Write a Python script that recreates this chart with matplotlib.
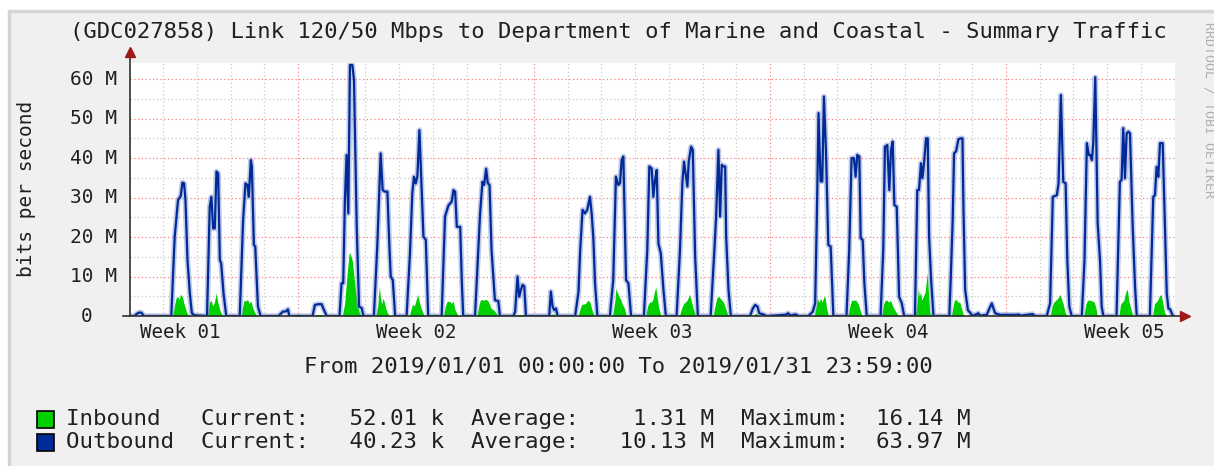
import numpy as np
import matplotlib
matplotlib.use("Agg")
import matplotlib.pyplot as plt
from matplotlib.patches import Rectangle
from matplotlib.lines import Line2D

W, H = 1214, 466
MONO = "DejaVu Sans Mono"

TITLE = "(GDC027858) Link 120/50 Mbps to Department of Marine and Coastal - Summary Traffic"
PERIOD = "From 2019/01/01 00:00:00 To 2019/01/31 23:59:00"
YLABEL = "bits per second"
WEEK_LABELS = ["Week 01", "Week 02", "Week 03", "Week 04", "Week 05"]
WEEK_CENTERS = [1.5, 8.5, 15.5, 22.5, 29.5]      # days since Jan 1
WEEK_BOUNDS = [5, 12, 19, 26]                    # red grid lines
Y_TICKS = [0, 10, 20, 30, 40, 50, 60]
Y_LABELS = ["0", "10 M", "20 M", "30 M", "40 M", "50 M", "60 M"]
LEGEND_ROWS = [
    ("Inbound ", "52.01 k", " 1.31 M", "16.14 M"),
    ("Outbound", "40.23 k", "10.13 M", "63.97 M"),
]

# outbound (Mbps) vs time (days since 2019-01-01 00:00)
OUT_T = [0.0, 0.15, 0.22, 0.30, 0.36, 0.42,
         1.24, 1.34, 1.44, 1.52, 1.57, 1.62, 1.66, 1.72, 1.79, 1.85, 1.93,
         2.30, 2.38, 2.43, 2.48, 2.53, 2.58, 2.63, 2.68, 2.72, 2.79, 2.87,
         3.27, 3.37, 3.44, 3.50, 3.54, 3.60, 3.63, 3.69, 3.73, 3.81, 3.89,
         4.42, 4.55, 4.65, 4.70, 4.74,
         5.43, 5.50, 5.60, 5.70, 5.77, 5.85,
         6.23, 6.29, 6.34, 6.39, 6.44, 6.49, 6.54, 6.61, 6.66, 6.74, 6.81, 6.89, 6.94,
         7.25, 7.35, 7.41, 7.45, 7.51, 7.58, 7.65, 7.71, 7.75, 7.81, 7.88,
         8.22, 8.32, 8.39, 8.44, 8.49, 8.54, 8.60, 8.65, 8.72, 8.79, 8.86,
         9.26, 9.36, 9.46, 9.56, 9.61, 9.66, 9.71, 9.81, 9.86, 9.90,
         10.25, 10.40, 10.47, 10.52, 10.58, 10.63, 10.68, 10.74, 10.84, 10.94, 10.99,
         11.39, 11.44, 11.51, 11.56, 11.61, 11.66, 11.71, 11.76,
         12.45, 12.50, 12.55, 12.60, 12.65, 12.70,
         13.22, 13.32, 13.37, 13.44, 13.51, 13.58, 13.66, 13.71, 13.76, 13.81, 13.88,
         14.25, 14.35, 14.43, 14.50, 14.55, 14.60, 14.65, 14.73, 14.80, 14.88,
         15.26, 15.36, 15.42, 15.49, 15.54, 15.59, 15.64, 15.69, 15.76, 15.84, 15.91,
         16.23, 16.33, 16.40, 16.45, 16.51, 16.55, 16.59, 16.66, 16.71, 16.78, 16.86,
         17.24, 17.35, 17.40, 17.47, 17.52, 17.57, 17.62, 17.67, 17.70, 17.77, 17.84,
         18.41, 18.49, 18.56, 18.63, 18.68, 18.80, 18.90,
         19.45, 19.54, 19.61, 19.69, 19.77, 19.84,
         20.14, 20.27, 20.34, 20.39, 20.44, 20.50, 20.55, 20.60, 20.66, 20.73, 20.80, 20.88,
         21.27, 21.35, 21.42, 21.49, 21.54, 21.59, 21.65, 21.69, 21.75, 21.80, 21.87,
         22.28, 22.36, 22.41, 22.48, 22.54, 22.59, 22.64, 22.69, 22.76, 22.83, 22.91, 22.98,
         23.30, 23.37, 23.42, 23.48, 23.52, 23.57, 23.63, 23.68, 23.72, 23.78, 23.85,
         24.32, 24.36, 24.42, 24.46, 24.52, 24.59, 24.66, 24.71, 24.74, 24.79, 24.87, 24.95, 25.01,
         25.08, 25.18, 25.23, 25.43, 25.51, 25.58, 25.63, 25.68, 25.83,
         26.32, 26.37, 26.44, 26.69, 26.79, 26.86,
         27.21, 27.31, 27.39, 27.51, 27.56, 27.63, 27.70, 27.77, 27.82, 27.88, 27.95,
         28.25, 28.33, 28.40, 28.46, 28.50, 28.55, 28.59, 28.65, 28.69, 28.72, 28.79, 28.84, 28.89,
         29.28, 29.38, 29.43, 29.48, 29.53, 29.58, 29.63, 29.68, 29.76, 29.83, 29.88,
         30.27, 30.37, 30.42, 30.47, 30.52, 30.57, 30.65, 30.69, 30.77, 30.82, 30.87, 30.95, 31.0]
OUT_V = [0, 0, 0.6, 0.9, 0.8, 0,
         0, 20.0, 29.4, 30.4, 33.8, 33.6, 29.4, 14.2, 5.7, 0.7, 0.2,
         0, 27.7, 30.2, 22.2, 22.2, 36.6, 36.1, 14.2, 13.3, 5.7, 0,
         0, 24.3, 33.6, 33.2, 30.2, 39.5, 37.8, 18.0, 17.6, 2.4, 0,
         0, 1.1, 1.2, 1.7, 0,
         0, 2.8, 3.0, 3.0, 1.5, 0,
         0, 8.3, 8.3, 29.4, 40.8, 26.0, 63.6, 63.6, 59.8, 22.6, 2.4, 2.0, 0,
         0, 17.6, 31.9, 41.2, 31.9, 31.5, 31.5, 17.6, 10.0, 9.1, 0,
         0, 15.9, 31.1, 35.3, 33.6, 35.3, 47.1, 36.1, 20.1, 19.3, 0,
         0, 25.2, 28.0, 29.0, 31.9, 31.5, 22.6, 22.6, 8.3, 0,
         0, 26.0, 34.0, 33.2, 37.3, 33.6, 33.2, 16.7, 4.0, 3.8, 0,
         0, 1.1, 10.0, 4.9, 6.6, 7.9, 7.5, 0,
         0, 6.2, 2.4, 1.5, 1.9, 0,
         0, 6.2, 16.7, 26.9, 26.0, 26.9, 30.2, 26.0, 19.7, 8.3, 0,
         0, 9.1, 35.3, 33.2, 33.6, 39.5, 40.4, 9.1, 8.3, 0,
         0, 16.7, 37.9, 37.4, 30.2, 34.5, 37.0, 18.4, 15.9, 6.6, 0,
         0, 16.7, 33.6, 39.1, 35.3, 32.8, 39.1, 42.9, 42.1, 15.0, 0,
         0, 16.7, 24.8, 42.1, 25.2, 38.3, 37.9, 37.9, 20.1, 6.6, 0,
         0, 1.9, 2.8, 2.4, 0.7, 0.4, 0,
         0.3, 0.7, 0.1, 0.3, 0.4, 0,
         0, 1.1, 3.2, 25.2, 51.4, 34.1, 34.1, 55.6, 42.1, 18.0, 17.6, 0,
         0, 16.7, 40.0, 40.0, 35.3, 40.8, 40.4, 19.7, 19.3, 8.3, 0,
         0, 16.7, 42.9, 43.3, 31.9, 42.1, 44.2, 28.1, 27.7, 4.9, 3.2, 0,
         0, 31.9, 31.9, 38.7, 34.9, 38.7, 45.0, 45.0, 20.1, 9.1, 0,
         0, 9.1, 24.3, 41.2, 41.7, 44.8, 45.0, 45.0, 26.9, 6.6, 1.5, 0.7, 0,
         0.3, 0.7, 0.1, 0.3, 1.9, 3.2, 1.9, 0.7, 0.3,
         0.3, 0.4, 0.1, 0.4, 0.5, 0,
         0, 3.2, 30.2, 30.6, 33.6, 56.0, 34.0, 33.6, 14.2, 2.4, 0,
         0, 14.2, 43.8, 40.8, 40.8, 39.5, 43.8, 60.5, 39.5, 23.5, 14.2, 2.4, 0,
         0, 34.0, 34.5, 47.6, 34.9, 46.3, 46.7, 46.3, 22.6, 7.4, 0,
         0, 30.2, 30.6, 37.8, 35.3, 43.8, 43.8, 31.1, 5.7, 1.9, 1.7, 0, 0]

# inbound (Mbps), filled area
IN_T = [0.0,
        1.28, 1.33, 1.38, 1.43, 1.47, 1.52, 1.57, 1.62, 1.70, 1.77,
        2.31, 2.37, 2.42, 2.47, 2.52, 2.57, 2.62, 2.68, 2.75, 2.82,
        3.31, 3.36, 3.40, 3.45, 3.50, 3.55, 3.60, 3.66, 3.72, 3.80,
        4.93, 4.97, 5.03, 5.07,
        5.48, 5.55, 5.70, 5.75,
        6.31, 6.38, 6.43, 6.48, 6.52, 6.56, 6.61, 6.66, 6.71, 6.76, 6.81, 6.88,
        7.31, 7.37, 7.41, 7.44, 7.48, 7.52, 7.56, 7.60, 7.65, 7.72,
        8.30, 8.36, 8.40, 8.45, 8.50, 8.55, 8.60, 8.65, 8.72, 8.78,
        9.31, 9.37, 9.42, 9.50, 9.55, 9.60, 9.66, 9.72, 9.77,
        10.31, 10.37, 10.42, 10.50, 10.56, 10.62, 10.68, 10.72, 10.80, 10.90, 10.95,
        11.45, 11.50, 11.70, 11.75,
        12.49, 12.52, 12.60, 12.63,
        13.31, 13.37, 13.42, 13.47, 13.53, 13.60, 13.66, 13.72, 13.79,
        14.33, 14.40, 14.43, 14.47, 14.52, 14.57, 14.62, 14.68, 14.73, 14.78,
        15.31, 15.37, 15.42, 15.47, 15.52, 15.57, 15.61, 15.65, 15.70, 15.77,
        16.31, 16.38, 16.43, 16.48, 16.52, 16.57, 16.61, 16.66, 16.72, 16.79,
        17.31, 17.38, 17.42, 17.47, 17.52, 17.57, 17.62, 17.68, 17.74, 17.80,
        18.50, 18.55, 18.60, 18.64,
        20.31, 20.37, 20.40, 20.43, 20.46, 20.50, 20.55, 20.60, 20.64, 20.68, 20.72, 20.78,
        21.31, 21.37, 21.42, 21.48, 21.55, 21.62, 21.67, 21.74,
        22.31, 22.37, 22.42, 22.47, 22.52, 22.57, 22.62, 22.67, 22.74, 22.80, 22.87,
        23.31, 23.37, 23.40, 23.43, 23.47, 23.50, 23.55, 23.60, 23.64, 23.67, 23.70, 23.74, 23.79,
        24.38, 24.43, 24.47, 24.52, 24.58, 24.63, 24.68, 24.73, 24.78,
        25.54, 25.57, 25.62,
        27.31, 27.37, 27.42, 27.48, 27.54, 27.60, 27.64, 27.70, 27.75, 27.82,
        28.31, 28.37, 28.42, 28.50, 28.56, 28.62, 28.67, 28.70, 28.76,
        29.35, 29.40, 29.45, 29.50, 29.55, 29.60, 29.64, 29.70, 29.75, 29.80,
        30.35, 30.40, 30.45, 30.50, 30.55, 30.60, 30.65, 30.70, 30.77, 31.0]
IN_V = [0,
        0, 2.5, 4.5, 5.0, 4.2, 5.5, 4.8, 3.0, 0.8, 0,
        0, 3.5, 4.0, 2.5, 3.5, 5.8, 3.5, 1.5, 0.3, 0,
        0, 2.5, 4.0, 3.8, 4.2, 3.2, 3.8, 2.0, 0.8, 0,
        0, 0.5, 0.5, 0,
        0, 0.4, 0.4, 0,
        0, 3.0, 8.0, 13.0, 16.1, 15.5, 14.0, 10.0, 6.0, 3.0, 1.0, 0,
        0, 3.0, 7.5, 5.0, 3.0, 4.5, 3.5, 2.0, 0.8, 0,
        0, 2.0, 3.0, 2.5, 4.0, 5.5, 3.5, 2.0, 0.5, 0,
        0, 2.5, 3.7, 3.7, 3.2, 3.8, 1.5, 0.5, 0,
        0, 3.0, 4.2, 4.0, 4.2, 4.0, 3.0, 2.0, 1.5, 0.5, 0,
        0, 0.4, 0.4, 0,
        0, 0.5, 0.5, 0,
        0, 2.0, 3.0, 3.0, 3.2, 4.0, 3.5, 1.5, 0,
        0, 4.0, 7.0, 6.0, 5.0, 4.2, 3.0, 2.0, 0.5, 0,
        0, 2.5, 3.5, 3.5, 4.0, 6.0, 7.4, 5.0, 2.0, 0,
        0, 2.0, 3.0, 3.5, 3.7, 4.5, 5.5, 4.0, 2.0, 0,
        0, 3.0, 4.5, 5.0, 4.5, 4.0, 3.5, 2.0, 0.5, 0,
        0, 0.6, 0.6, 0,
        0, 2.5, 4.5, 4.0, 3.5, 4.5, 3.5, 5.0, 4.5, 2.0, 0.5, 0,
        0, 2.5, 4.0, 4.0, 4.0, 3.0, 1.5, 0,
        0, 3.0, 4.0, 4.0, 3.5, 4.0, 3.0, 2.0, 1.0, 0.3, 0,
        0, 4.0, 7.0, 5.0, 6.0, 4.0, 5.0, 6.0, 9.0, 11.0, 6.0, 1.0, 0,
        0, 2.5, 4.0, 4.2, 3.5, 3.5, 2.0, 0.5, 0,
        0, 0.5, 0,
        0, 2.5, 3.5, 4.0, 4.5, 5.5, 4.5, 3.0, 1.0, 0,
        0, 3.0, 4.0, 4.0, 3.8, 3.5, 2.0, 0.5, 0,
        0, 3.0, 3.5, 4.0, 6.0, 6.8, 4.0, 2.0, 0.5, 0,
        0, 3.0, 3.5, 4.0, 5.0, 5.5, 3.5, 1.0, 0, 0]

IN_COLOR = "#00CF00"
OUT_COLOR = "#002A97"
BACK = "#F0F0F0"
GRID = "#C8C8C8"
MGRID = "#FF8080"
ARROW = "#A01818"


def fx(px): return px / W
def fy(py): return 1 - py / H   # py measured from top


fig = plt.figure(figsize=(W / 100, H / 100), dpi=100, facecolor="white")

# rrdtool-style background panel with shaded top/left edge (behind the axes)
fig.patches.append(Rectangle((fx(9), 0), 1, fy(11), transform=fig.transFigure,
                             facecolor=BACK, edgecolor="none", zorder=-5))
fig.lines.append(Line2D([fx(9), fx(9), 1], [0, fy(11), fy(11)], transform=fig.transFigure,
                        color="#D4D4D4", lw=2.5, zorder=-4))

x0, x1, ytop, ybot = 129.5, 1174.5, 63.0, 316.0
ax = fig.add_axes([fx(x0), fy(ybot), fx(x1) - fx(x0), fy(ytop) - fy(ybot)])
ax.set_xlim(0, 31)
ax.set_ylim(0, 64.1)
ax.set_facecolor("white")
for s in ax.spines.values():
    s.set_visible(False)
ax.set_xticks([])
ax.set_yticks([])

dot = (0, (1, 2))
for d in range(1, 31):
    if d not in WEEK_BOUNDS:
        ax.axvline(d, color=GRID, lw=0.9, ls=dot, zorder=1)
for v in range(5, 64, 10):
    ax.axhline(v, color=GRID, lw=0.9, ls=dot, zorder=1)
for d in WEEK_BOUNDS:
    ax.axvline(d, color=MGRID, lw=0.9, ls=dot, zorder=1)
for v in Y_TICKS[1:]:
    ax.axhline(v, color=MGRID, lw=0.9, ls=dot, zorder=1)

ax.fill_between(IN_T, IN_V, color=IN_COLOR, lw=0, zorder=2)
ax.plot(OUT_T, OUT_V, color="#8494D2", lw=4.0, alpha=0.5, zorder=3, solid_joinstyle="round")
ax.plot(OUT_T, OUT_V, color=OUT_COLOR, lw=1.6, zorder=4, solid_joinstyle="round")

# axes with arrows
ax.plot([-0.2, 31.25], [0, 0], color="#303030", lw=1.2, clip_on=False, zorder=5)
ax.plot([0, 0], [0, 66.3], color="#303030", lw=1.2, clip_on=False, zorder=5)
ax.plot([31.3], [0], marker=">", color=ARROW, ms=7, clip_on=False, zorder=6)
ax.plot([0], [66.8], marker="^", color=ARROW, ms=7, clip_on=False, zorder=6)

for v, lab in zip(Y_TICKS, Y_LABELS):
    off = -37 if lab == "0" else -12
    ax.annotate(lab, xy=(0, v), xycoords=("axes fraction", "data"),
                xytext=(off * 0.72, 0), textcoords="offset points",
                ha="right", va="center", family=MONO, fontsize=14, color="#202020")

for c, lab in zip(WEEK_CENTERS, WEEK_LABELS):
    ax.text(c, (316 - 332) / 253, lab, transform=ax.get_xaxis_transform(), ha="center",
            va="center", family=MONO, fontsize=13.8, color="#202020")

fig.text(fx(618), fy(32), TITLE, ha="center", va="center", family=MONO, fontsize=16, color="#202020")
fig.text(fx(618), fy(367), PERIOD, ha="center", va="center", family=MONO, fontsize=16, color="#202020")
fig.text(fx(26), fy(189), YLABEL, ha="center", va="center", rotation=90, family=MONO,
         fontsize=14, color="#202020")
fig.text(fx(1209), fy(110), "RRDTOOL / TOBI OETIKER", ha="center", va="center", rotation=-90,
         family=MONO, fontsize=9.5, color="#B0B0B0")

for i, (name, cur, avg, mx) in enumerate(LEGEND_ROWS):
    yc = 419 + i * 23
    col = IN_COLOR if i == 0 else OUT_COLOR
    fig.patches.append(Rectangle((fx(37), fy(yc + 8.5)), fx(17), 17 / H, transform=fig.transFigure,
                                 facecolor=col, edgecolor="black", lw=1.2, zorder=3))
    line = f"{name}  Current:   {cur}  Average:   {avg}  Maximum:  {mx}"
    fig.text(fx(66), fy(yc), line, ha="left", va="center", family=MONO, fontsize=16.2,
             color="#202020")

fig.savefig("out.png", dpi=100, facecolor=fig.get_facecolor())
